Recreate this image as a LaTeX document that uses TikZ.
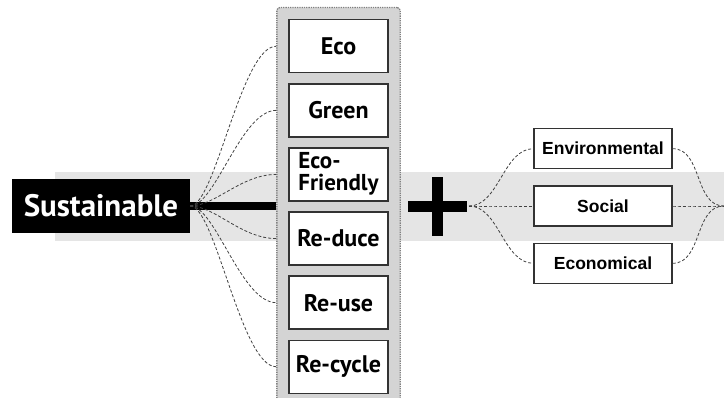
\documentclass[tikz,border=0pt]{standalone}
\usepackage{fontspec}
\setsansfont{PT Sans}
\newfontfamily\facfont{Liberation Sans}
\usepackage{tikz}
\usetikzlibrary{matrix}
\colorlet{bandgray}{black!10}
\colorlet{colgray}{black!17}
\colorlet{linkgray}{black!75}
\newcommand\ecofriendly{\begin{tabular}{@{}l@{}}Eco-\\[-1pt]Friendly\end{tabular}}
\tikzstyle{sust}=[fill=black,text=white,font=\sffamily\bfseries\fontsize{31}{34}\selectfont,minimum width=178pt,minimum height=54pt,inner sep=0pt]
\tikzstyle{term}=[draw=black!80,solid,line width=1.3pt,sharp corners,fill=white,font=\sffamily\bfseries\fontsize{24}{22}\selectfont,minimum width=99pt,minimum height=53pt,inner sep=0pt]
\tikzstyle{fac}=[draw=black!80,solid,line width=1.3pt,fill=white,font=\facfont\bfseries\fontsize{17.5}{19}\selectfont,minimum width=138pt,minimum height=40pt,inner sep=1pt]
\tikzstyle{link}=[densely dashed,line width=.8pt,linkgray]
\begin{document}
\begin{tikzpicture}[x=1pt,y=-1pt]
	\useasboundingbox (0,0) rectangle (724,398);
	\fill[bandgray] (55,172) rectangle (724,241);
	\node[sust] (s) at (101,206) {Sustainable};
	\matrix [matrix of nodes, nodes={term}, row sep=9.8pt, inner sep=11.5pt,
	         fill=colgray, draw=black!50, densely dotted, line width=1.3pt, rounded corners=3pt] (m) at (338.5,206.5) {
	  Eco \\ Green \\ |[font=\sffamily\bfseries\fontsize{23}{20}\selectfont]| \ecofriendly \\ Re-duce \\ Re-use \\ Re-cycle \\ };
	\draw[line width=8pt] (s.east) -- (m.west |- s.east);
	\foreach \i in {1,...,6}
	  \draw[link] (s.east) .. controls +(25,0) and +(-35,0) .. (m.west |- m-\i-1);
	% plus sign
	\coordinate (plus) at (437.5,206.5);
	\fill (plus) +(-29.5,-5.5) rectangle +(29.5,5.5);
	\fill (plus) +(-5.5,-29.5) rectangle +(5.5,29.5);
	\coordinate (pr) at (469,206);
	\matrix [matrix of nodes, nodes={fac}, row sep=16pt] (r) at (603,206) {
	  Environmental \\ Social \\ Economical \\ };
	\coordinate (end) at (724,206);
	\foreach \i in {1,2,3} {
	  \draw[link] (pr) .. controls +(30,0) and +(-30,0) .. (r-\i-1.west);
	  \draw[link] (r-\i-1.east) .. controls +(30,0) and +(-30,0) .. (end);
	}
\end{tikzpicture}
\end{document}
